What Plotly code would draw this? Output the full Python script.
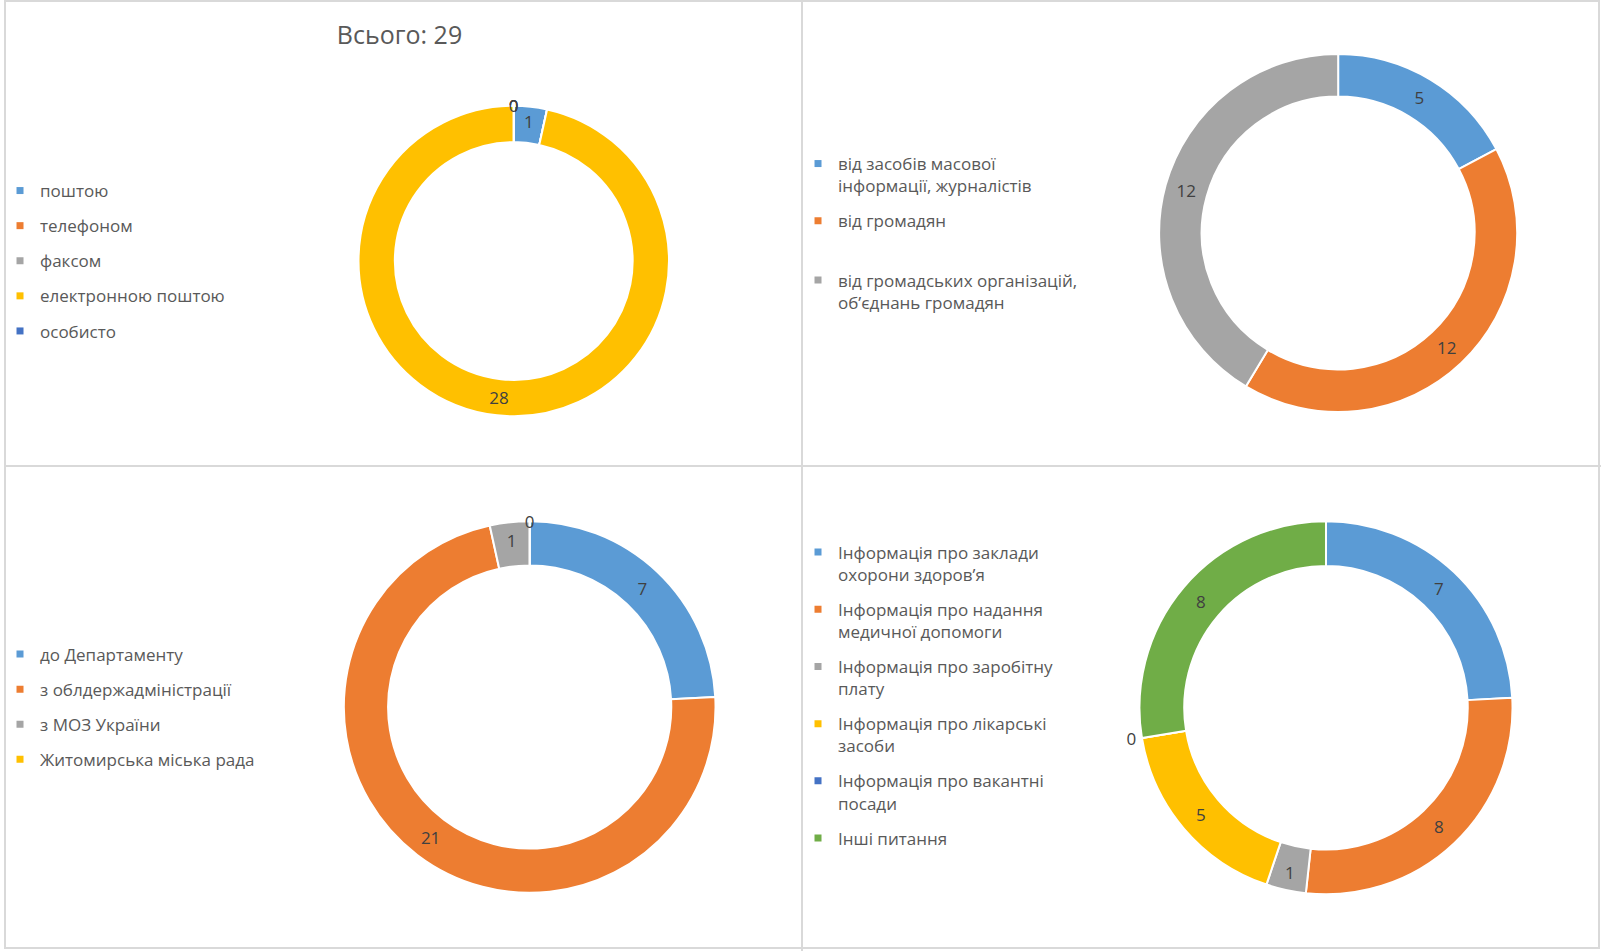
import plotly.graph_objects as go

# ---------------- data ----------------
title_text = "Всього: 29"

c1_labels = ["поштою", "телефоном", "факсом", "електронною поштою", "особисто"]
c1_values = [1, 0, 0, 28, 0]

c2_labels = ["від засобів масової<br>інформації, журналістів", "від громадян",
             "від громадських організацій,<br>об’єднань громадян"]
c2_values = [5, 12, 12]

c3_labels = ["до Департаменту", "з облдержадміністрації", "з МОЗ України",
             "Житомирська міська рада"]
c3_values = [7, 21, 1, 0]

c4_labels = ["Інформація про заклади<br>охорони здоров’я",
             "Інформація про надання<br>медичної допомоги",
             "Інформація про заробітну<br>плату",
             "Інформація про лікарські<br>засоби",
             "Інформація про вакантні<br>посади",
             "Інші питання"]
c4_values = [7, 8, 1, 5, 0, 8]

palette = ["#5B9BD5", "#ED7D31", "#A5A5A5", "#FFC000", "#4472C4", "#70AD47"]

# ---------------- layout helpers ----------------
W, H = 1601, 951
FONT = "Open Sans"


def dom(cx, cy, r):
    return dict(x=[(cx - r) / W, (cx + r) / W], y=[1 - (cy + r) / H, 1 - (cy - r) / H])


# (labels, values, domain, hole, legend ids per entry, zero-label placement)
charts = [
    (c1_labels, c1_values, dom(511, 261, 155.6), 0.766, ["legend"] * 5, "inside"),
    (c2_labels, c2_values, dom(1337.5, 233, 179.5), 0.762, ["legend2", "legend2", "legend5"], "inside"),
    (c3_labels, c3_values, dom(527, 707, 186.3), 0.762, ["legend3"] * 4, "inside"),
    (c4_labels, c4_values, dom(1325.3, 707.8, 187), 0.76, ["legend4"] * 6, "outside"),
]

fig = go.Figure()
for ci, (labels, values, d, hole, lgs, zero_pos) in enumerate(charts):
    cols = palette[:len(labels)]
    fig.add_trace(go.Pie(
        labels=[f"{ci}_{l}" for l in labels], values=values, domain=d, hole=hole,
        sort=False, direction="clockwise", rotation=0,
        marker=dict(colors=cols, line=dict(color="white", width=2)),
        textinfo="value",
        textposition=["inside" if v else zero_pos for v in values],
        insidetextorientation="horizontal",
        textfont=dict(family=FONT, size=17, color="#404040"),
        showlegend=False, hoverinfo="skip", automargin=False,
    ))
    for li, (lab, col, lg) in enumerate(zip(labels, cols, lgs)):
        fig.add_trace(go.Scatter(
            x=[None], y=[None], mode="markers", name=lab,
            marker=dict(symbol="square", size=7, color=col),
            legend=lg, legendgroup=f"g{ci}_{li}", showlegend=True, hoverinfo="skip",
        ))


def leg(x_px, y_px, gap):
    return dict(x=x_px / W, y=1 - y_px / H, xanchor="left", yanchor="top",
                bgcolor="rgba(0,0,0,0)", traceorder="grouped", tracegroupgap=gap,
                valign="top", font=dict(family=FONT, size=17, color="#595959"),
                itemclick=False, itemdoubleclick=False)


border = "#D9D9D9"
shapes = [
    dict(type="rect", xref="paper", yref="paper", x0=1 / W, x1=1599 / W, y0=1 - 948 / H, y1=1 - 1 / H,
         line=dict(color=border, width=2)),
    dict(type="line", xref="paper", yref="paper", x0=800 / W, x1=800 / W, y0=0, y1=1,
         line=dict(color=border, width=2)),
    dict(type="line", xref="paper", yref="paper", x0=0, x1=1, y0=1 - 466 / H, y1=1 - 466 / H,
         line=dict(color=border, width=2)),
]

fig.update_layout(
    width=W, height=H, margin=dict(l=0, r=0, t=0, b=0),
    paper_bgcolor="white", plot_bgcolor="white",
    title=dict(text=title_text, x=399.5 / W, xanchor="center", y=1 - 35 / H, yanchor="middle",
               font=dict(family=FONT, size=25, color="#595959")),
    xaxis=dict(visible=False), yaxis=dict(visible=False),
    uniformtext=dict(minsize=17, mode="show"),
    legend=leg(-4, 173, 10),
    legend2=leg(796, 146, 10),
    legend5=leg(796, 262.5, 10),
    legend3=leg(-4, 636.5, 10),
    legend4=leg(796, 534.5, 10),
    shapes=shapes,
)

fig.write_html("out.html", config={"displayModeBar": False},
               post_script="document.body.style.margin='0';")
